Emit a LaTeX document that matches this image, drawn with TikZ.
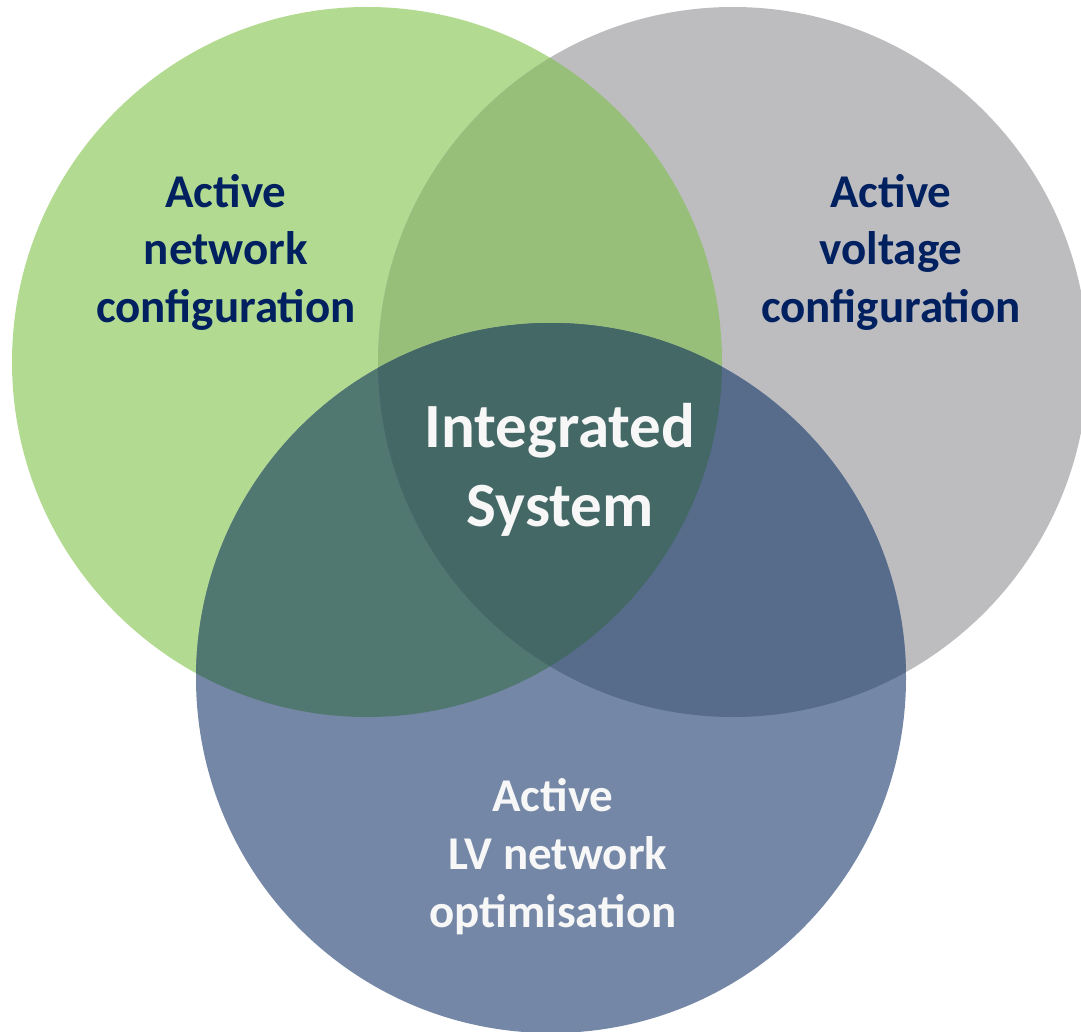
\documentclass[tikz,border=0pt]{standalone}
\usepackage{fontspec}
\setmainfont{Carlito}
\definecolor{greenset}{HTML}{B2DB91}
\definecolor{greyset}{HTML}{BDBDBF}
\definecolor{blueset}{HTML}{7487A6}
\definecolor{greengrey}{HTML}{97BF7A}
\definecolor{greenblue}{HTML}{507870}
\definecolor{greyblue}{HTML}{566C8A}
\definecolor{allsets}{HTML}{436865}
\definecolor{navytext}{HTML}{002060}
\definecolor{whitetext}{HTML}{F7F7F7}
\begin{document}
\begin{tikzpicture}[
        x = 1pt, y = -1pt,
        side/.style = {align=center, text=navytext, font=\bfseries\fontsize{47}{57.5}\selectfont},
        low/.style = {align=center, text=whitetext, font=\bfseries\fontsize{47}{58}\selectfont},
        mid/.style = {align=center, text=whitetext, font=\bfseries\fontsize{63}{79}\selectfont},
    ]
    \useasboundingbox (0,0) rectangle (1081,1032);
    \clip (0,0) rectangle (1081,1032);

    \def\greencirc{(367,362) circle [radius=355]}
    \def\greycirc{(733,362) circle [radius=355]}
    \def\bluecirc{(551,678) circle [radius=355]}

    \fill[greenset] \greencirc;
    \fill[greyset] \greycirc;
    \fill[blueset] \bluecirc;

    % overlaps
    \begin{scope}
        \clip \greencirc;
        \fill[greengrey] \greycirc;
        \fill[greenblue] \bluecirc;
    \end{scope}
    \begin{scope}
        \clip \greycirc;
        \fill[greyblue] \bluecirc;
    \end{scope}
    \begin{scope}
        \clip \greencirc;
        \clip \greycirc;
        \fill[allsets] \bluecirc;
    \end{scope}

    \node (net) [side] at (226,252) {Active\\network\\configuration};
    \node (volt) [side] at (891,252) {Active\\voltage\\configuration};
    \node (integ) [mid] at (560,470) {Integrated\\System};
    \node (lv) [low] at (553,857) {Active\\\hspace*{10pt}LV network\\optimisation};
\end{tikzpicture}
\end{document}
